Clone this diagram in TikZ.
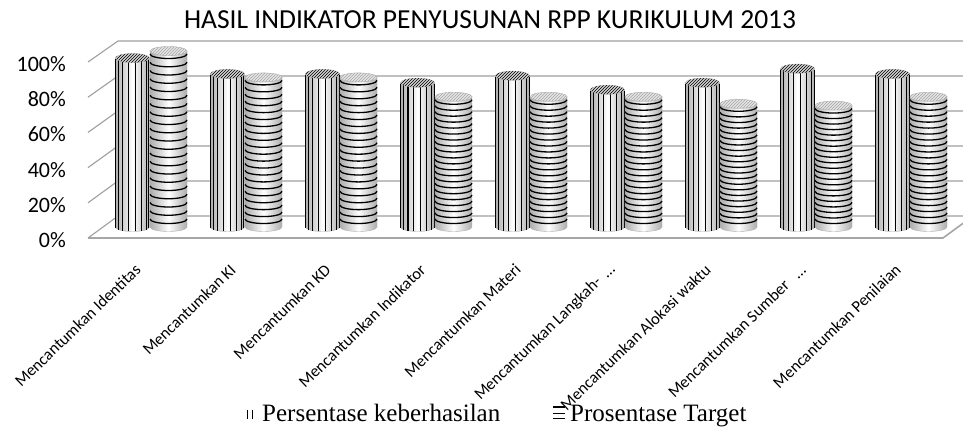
\documentclass[tikz,border=0pt]{standalone}
\usepackage{fontspec}
\setmainfont{Liberation Serif}
\newfontfamily\carl{Carlito}
\usetikzlibrary{patterns}
\tikzset{
  grid/.style={draw=gray!75, line width=1.1pt},
  floorline/.style={draw=gray!70, line width=1.6pt},
  ylab/.style={anchor=east, font=\carl\fontsize{22}{24}\selectfont, inner sep=0pt},
  xlab/.style={anchor=east, rotate=44, font=\carl\fontsize{16.5}{18}\selectfont, inner sep=0pt},
  cylbody/.style={left color=gray!65, right color=gray!65, middle color=white, draw=gray!60, line width=0.4pt},
  vstripe/.style={line width=1pt, black},
  hstripe/.style={line width=1.3pt, black},
  legtext/.style={anchor=base west, font=\fontsize{25}{28}\selectfont, inner sep=0pt},
}
\begin{document}
\begin{tikzpicture}[x=1pt,y=1pt]
\useasboundingbox (0,0) rectangle (963,-428);
\fill[white] (0,0) rectangle (963,-428);
% walls and floor
\begin{scope}
\clip (0,0) rectangle (963,-428);
\foreach \k in {0,...,5} {
  \pgfmathsetmacro\yb{216-35*\k}
  \pgfmathsetmacro\yf{238-35.2*\k}
  \draw[grid] (88,-\yf) -- (118,-\yb) -- (980,-\yb);
}
\draw[floorline] (88,-238) -- (943,-238) -- (973,-216);
\end{scope}
% y labels
\foreach \k/\t in {0/0\%,1/20\%,2/40\%,3/60\%,4/80\%,5/100\%} {
  \pgfmathsetmacro\yf{238-35.2*\k+2}
  \node[ylab] (y\k) at (66,-\yf) {\t};
}
% cylinders
\foreach \v/\h [count=\i from 0] in {96/100,87/85,87/85,82/74,86/74,78/74,82/70,90/69,87/74} {
  \pgfmathsetmacro\cxa{132.5+95*\i}
  \pgfmathsetmacro\tya{227-1.76*\v}
  \pgfmathsetmacro\cxb{168.5+95*\i}
  \pgfmathsetmacro\tyb{227-1.76*\h}
  % vertical-striped cylinder
  \shade[cylbody] (\cxa-17,-\tya) -- (\cxa-17,-227) arc[start angle=180,end angle=360,x radius=17,y radius=4.5] -- (\cxa+17,-\tya) arc[start angle=0,end angle=-180,x radius=17,y radius=4.5] -- cycle;
  \foreach \p in {12,34,...,166} {
    \pgfmathsetmacro\xx{\cxa-17*cos(\p)}
    \pgfmathsetmacro\dd{4.5*sin(\p)}
    \draw[vstripe] (\xx,-\tya-\dd) -- (\xx,-227-\dd);
  }
  \filldraw[draw=gray!60, fill=gray!35] (\cxa,-\tya) ellipse[x radius=17,y radius=4.5];
  \fill[pattern=north east lines] (\cxa,-\tya) ellipse[x radius=17,y radius=4.5];
  % horizontal-striped cylinder
  \shade[cylbody] (\cxb-18.5,-\tyb) -- (\cxb-18.5,-227) arc[start angle=180,end angle=360,x radius=18.5,y radius=4.5] -- (\cxb+18.5,-\tyb) arc[start angle=0,end angle=-180,x radius=18.5,y radius=4.5] -- cycle;
  \foreach \k in {0,...,20} {
    \pgfmathsetmacro\yk{\tyb+3+\k*(227-11-\tyb)/20}
    \draw[hstripe] (\cxb-18.5,-\yk) arc[start angle=180,end angle=360,x radius=18.5,y radius=4.5];
  }
  \filldraw[draw=gray!60, fill=gray!20] (\cxb,-\tyb) ellipse[x radius=18.5,y radius=4.5];
  \fill[pattern=north east lines, pattern color=gray!70] (\cxb,-\tyb) ellipse[x radius=18.5,y radius=4.5];
}
% x labels
\foreach \t [count=\i from 0] in {Mencantumkan Identitas,Mencantumkan KI,Mencantumkan KD,Mencantumkan Indikator,Mencantumkan Materi,Mencantumkan Langkah-\ \ …,Mencantumkan Alokasi waktu,Mencantumkan Sumber\ \ \ …,Mencantumkan Penilaian} {
  \pgfmathsetmacro\xl{138+95*\i}
  \node[xlab] (x\i) at (\xl,-267) {\t};
}
% title
\node[font=\carl\fontsize{27.5}{30}\selectfont, inner sep=0pt] (title) at (490,-20) {HASIL INDIKATOR PENYUSUNAN RPP KURIKULUM 2013};
% legend
\draw[line width=1pt] (247.5,-410) -- (247.5,-419) (252,-410) -- (252,-419);
\draw[line width=1.8pt] (553,-407) -- (565,-407) (553,-418.5) -- (565,-418.5);
\draw[line width=0.7pt] (553,-413) -- (565,-413);
\node[legtext] (leg1) at (262,-421) {Persentase keberhasilan};
\node[legtext] (leg2) at (570,-421) {Prosentase Target};
\end{tikzpicture}
\end{document}
